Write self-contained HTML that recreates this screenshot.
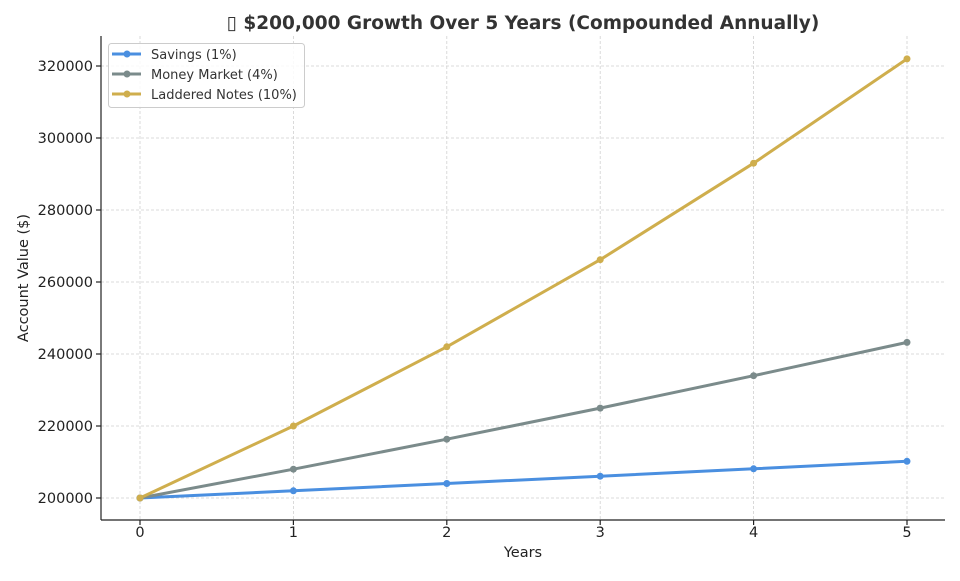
<!DOCTYPE html>
<html><head><meta charset="utf-8"><style>body{margin:0;background:#fff}</style></head><body>
<svg width="960" height="576" xmlns="http://www.w3.org/2000/svg" font-family="DejaVu Sans, Liberation Sans, sans-serif">
<rect width="960" height="576" fill="#fff"/>
<g stroke="#d0d0d0" stroke-width="0.8" stroke-dasharray="3,2">
<line x1="140" y1="36" x2="140" y2="520"/><line x1="293.4" y1="36" x2="293.4" y2="520"/><line x1="446.8" y1="36" x2="446.8" y2="520"/><line x1="600.2" y1="36" x2="600.2" y2="520"/><line x1="753.6" y1="36" x2="753.6" y2="520"/><line x1="907" y1="36" x2="907" y2="520"/>
<line x1="101" y1="498" x2="945" y2="498"/><line x1="101" y1="426" x2="945" y2="426"/><line x1="101" y1="354" x2="945" y2="354"/><line x1="101" y1="282" x2="945" y2="282"/><line x1="101" y1="210" x2="945" y2="210"/><line x1="101" y1="138" x2="945" y2="138"/><line x1="101" y1="66" x2="945" y2="66"/>
</g>
<g stroke="#222" stroke-width="1.2">
<line x1="101" y1="36" x2="101" y2="520"/><line x1="101" y1="520" x2="945" y2="520"/>
<line x1="96" y1="498" x2="101" y2="498"/><line x1="96" y1="426" x2="101" y2="426"/><line x1="96" y1="354" x2="101" y2="354"/><line x1="96" y1="282" x2="101" y2="282"/><line x1="96" y1="210" x2="101" y2="210"/><line x1="96" y1="138" x2="101" y2="138"/><line x1="96" y1="66" x2="101" y2="66"/>
<line x1="140" y1="520" x2="140" y2="525"/><line x1="293.4" y1="520" x2="293.4" y2="525"/><line x1="446.8" y1="520" x2="446.8" y2="525"/><line x1="600.2" y1="520" x2="600.2" y2="525"/><line x1="753.6" y1="520" x2="753.6" y2="525"/><line x1="907" y1="520" x2="907" y2="525"/>
</g>
<g font-size="14.5" fill="#222" text-anchor="end">
<text x="93" y="503">200000</text><text x="93" y="431">220000</text><text x="93" y="359">240000</text><text x="93" y="287">260000</text><text x="93" y="215">280000</text><text x="93" y="143">300000</text><text x="93" y="71">320000</text>
</g>
<g font-size="14.5" fill="#222" text-anchor="middle">
<text x="140" y="537">0</text><text x="293.4" y="537">1</text><text x="446.8" y="537">2</text><text x="600.2" y="537">3</text><text x="753.6" y="537">4</text><text x="907" y="537">5</text>
<text x="523" y="557">Years</text>
<text transform="translate(28,278) rotate(-90)">Account Value ($)</text>
<text x="523" y="29" font-size="18.5" font-weight="bold" fill="#333">▯ $200,000 Growth Over 5 Years (Compounded Annually)</text>
</g>
<g fill="none" stroke-width="3">
<polyline stroke="#4a8fe0" points="140,498 293.4,490.8 446.8,483.5 600.2,476.2 753.6,468.8 907,461.3"/>
<polyline stroke="#7b8b8b" points="140,498 293.4,469.2 446.8,439.2 600.2,408.1 753.6,375.7 907,342.4"/>
<polyline stroke="#cfae4d" points="140,498 293.4,426 446.8,346.8 600.2,259.7 753.6,163.2 907,58.9"/>
</g>
<g fill="#4a8fe0"><circle cx="140" cy="498" r="3.5"/><circle cx="293.4" cy="490.8" r="3.5"/><circle cx="446.8" cy="483.5" r="3.5"/><circle cx="600.2" cy="476.2" r="3.5"/><circle cx="753.6" cy="468.8" r="3.5"/><circle cx="907" cy="461.3" r="3.5"/></g>
<g fill="#7b8b8b"><circle cx="140" cy="498" r="3.5"/><circle cx="293.4" cy="469.2" r="3.5"/><circle cx="446.8" cy="439.2" r="3.5"/><circle cx="600.2" cy="408.1" r="3.5"/><circle cx="753.6" cy="375.7" r="3.5"/><circle cx="907" cy="342.4" r="3.5"/></g>
<g fill="#cfae4d"><circle cx="140" cy="498" r="3.5"/><circle cx="293.4" cy="426" r="3.5"/><circle cx="446.8" cy="346.8" r="3.5"/><circle cx="600.2" cy="259.7" r="3.5"/><circle cx="753.6" cy="163.2" r="3.5"/><circle cx="907" cy="58.9" r="3.5"/></g>
<rect x="108.5" y="43.5" width="196" height="64" rx="3" fill="#fff" fill-opacity="0.85" stroke="#ccc"/>
<g stroke-width="3">
<line x1="112" y1="54" x2="141" y2="54" stroke="#4a8fe0"/><circle cx="127" cy="54" r="3.5" fill="#4a8fe0"/>
<line x1="112" y1="74" x2="141" y2="74" stroke="#7b8b8b"/><circle cx="127" cy="74" r="3.5" fill="#7b8b8b"/>
<line x1="112" y1="94" x2="141" y2="94" stroke="#cfae4d"/><circle cx="127" cy="94" r="3.5" fill="#cfae4d"/>
</g>
<g font-size="13" fill="#333">
<text x="151" y="59">Savings (1%)</text><text x="151" y="79">Money Market (4%)</text><text x="151" y="99">Laddered Notes (10%)</text>
</g>
</svg>
</body></html>
